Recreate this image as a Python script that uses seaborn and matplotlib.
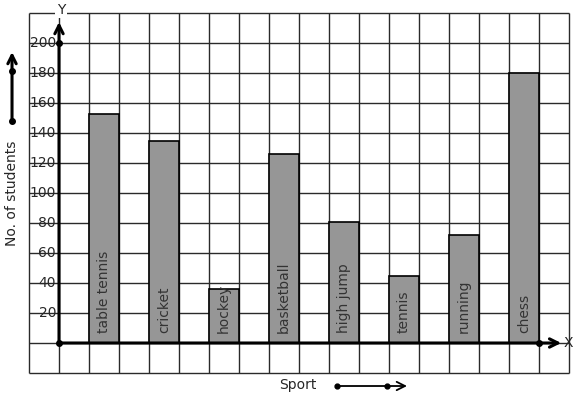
import matplotlib
matplotlib.use("Agg")
import matplotlib.pyplot as plt
import seaborn as sns
import numpy as np
import pandas as pd

sports = ["table tennis", "cricket", "hockey", "basketball", "high jump",
          "tennis", "running", "chess"]
students = [153, 135, 36, 126, 81, 45, 72, 180]
ytick_values = [20, 40, 60, 80, 100, 120, 140, 160, 180, 200]
ytick_labels = ["20", "40", "60", "80", "100", "120", "140", "160", "180", "200"]

sns.set_style("white")
plt.rcParams["font.family"] = ["DejaVu Sans"]

fig = plt.figure(figsize=(5.77, 3.99), dpi=100)
ax = fig.add_axes([0, 0, 1, 1])

df = pd.DataFrame({"sport": sports, "students": students})
sns.barplot(data=df, x="sport", y="students", width=0.5, color="#969696",
            saturation=1, edgecolor="black", linewidth=1.2, ax=ax, zorder=3)

# pixel-to-data mapping (category spacing = 2 grid cells, 1 cell = 20 units)
ax.set_xlim(-104 / 60, 473 / 60)
ax.set_ylim(-37.333, 228.667)
ax.axis("off")

GRID = "#2a2a2a"
# grid
xs = -1.25 + 0.5 * np.arange(19)
ys = -20 + 20 * np.arange(13)
ax.vlines(xs, -20, 220, color=GRID, lw=1.0, zorder=1)
ax.hlines(ys, -1.25, 7.75, color=GRID, lw=1.0, zorder=1)

# axes with arrows
aprops = dict(arrowstyle="->,head_length=0.6,head_width=0.3", lw=2.2,
              color="black", shrinkA=0, shrinkB=0)
ax.annotate("", xy=(-0.75, 214), xytext=(-0.75, 0), arrowprops=aprops, zorder=4)
ax.annotate("", xy=(7.62, 0), xytext=(-0.75, 0), arrowprops=aprops, zorder=4)
ax.plot([-0.75, -0.75, 7.25], [0, 200, 0], "o", color="black", ms=4, zorder=5)

ax.text(-0.717, 222, "Y", ha="center", va="center", fontsize=10,
        bbox=dict(facecolor="white", edgecolor="none", pad=1), zorder=5)
ax.text(7.74, 0, "X", ha="center", va="center", fontsize=10, zorder=5)

# y tick labels
for v, lab in zip(ytick_values, ytick_labels):
    ax.text(-0.8, v, lab, ha="right", va="center", fontsize=10, zorder=2)

# bar labels
for i, name in enumerate(sports):
    ax.text(i, 6.7, name, rotation=90, ha="center", va="bottom",
            fontsize=10, color="#333333", zorder=4)

# y label and arrow
ax.text(-1.533, 100, "No. of students", rotation=90, ha="center",
        va="center", fontsize=10)
ax.annotate("", xy=(-1.533, 194), xytext=(-1.533, 148), arrowprops=aprops)
ax.plot([-1.533, -1.533], [148, 181.3], "o", color="black", ms=4)

# x label and arrow
ax.text(3.233, -28, "Sport", ha="center", va="center", fontsize=10)
bprops = dict(aprops, lw=1.3)
ax.annotate("", xy=(5.05, -28.67), xytext=(3.883, -28.67), arrowprops=bprops)
ax.plot([3.883, 4.717], [-28.67, -28.67], "o", color="black", ms=3.5)

fig.savefig("out.png", dpi=100)
